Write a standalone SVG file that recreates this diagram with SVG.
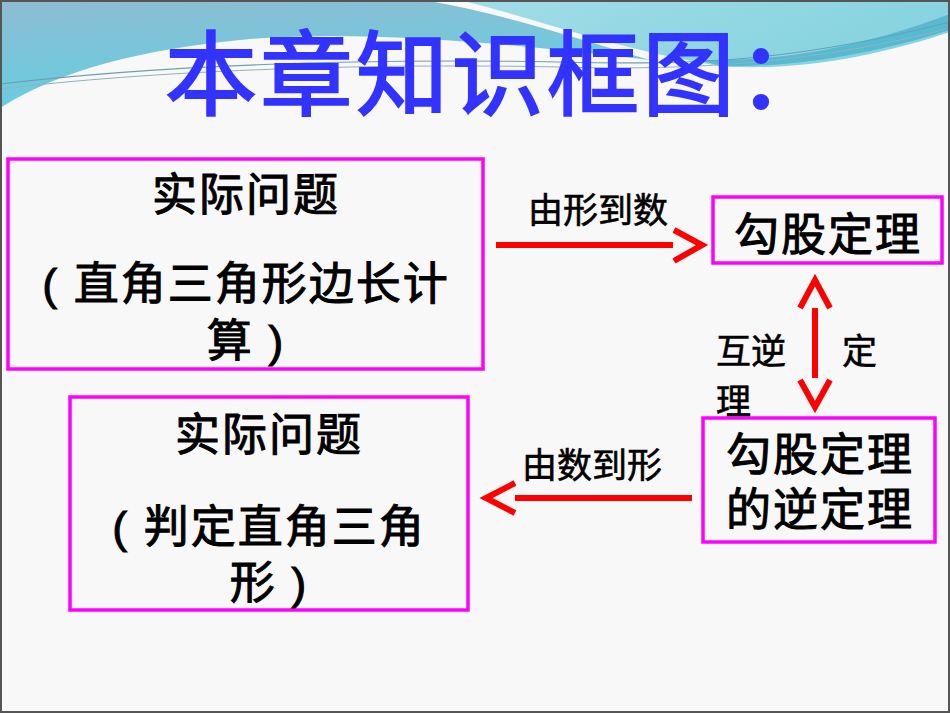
<svg xmlns="http://www.w3.org/2000/svg" width="950" height="713" viewBox="0 0 950 713">
<defs>
<linearGradient id="gl" x1="0" y1="0" x2="0.3" y2="1">
<stop offset="0" stop-color="#8fbcd3"/>
<stop offset="1" stop-color="#63cfe0"/>
</linearGradient>
<linearGradient id="gr" x1="0" y1="0" x2="1" y2="0.3">
<stop offset="0" stop-color="#a2dde6"/>
<stop offset="1" stop-color="#86d3df"/>
</linearGradient>
<style>
.box{fill:none;stroke:#ff00ff;stroke-width:3.5}
.bt{font-family:"Liberation Sans","Noto Sans CJK SC",sans-serif;font-size:45px;fill:#000;stroke:#000;stroke-width:1;text-anchor:middle;letter-spacing:2px}
.lb{font-family:"Liberation Sans","Noto Sans CJK SC",sans-serif;font-size:35px;fill:#000;stroke:#000;stroke-width:0.6}
.ar{fill:none;stroke:#ff0000;stroke-width:6}
</style>
</defs>
<rect x="0" y="0" width="950" height="713" fill="#f8f8f8"/>
<g id="waves">
<path d="M0,0 H424 C510,15 580,40 650,60 C520,45 360,28 240,40 C140,50 60,70 0,108 Z" fill="url(#gl)"/>
<path d="M460,0 C540,20 620,50 720,66 C800,72 880,55 950,32 V0 Z" fill="url(#gr)"/>
<path d="M700,60 C800,62 880,40 950,14 V30 C880,52 800,68 720,66 Z" fill="#55bad2"/>
<path d="M0,84 C150,66 350,58 560,62 C700,66 800,60 950,22" fill="none" stroke="#6f9fae" stroke-width="1.2"/>
<path d="M0,89 C150,71 350,63 560,67 C700,71 820,62 950,28" fill="none" stroke="#8fb3be" stroke-width="1"/>
</g>
<rect x="1" y="1" width="948" height="711" fill="none" stroke="#555" stroke-width="2"/>
<text id="title" x="165" y="108" font-family="'Noto Sans CJK SC',sans-serif" font-size="92" fill="#3333ff" stroke="#3333ff" stroke-width="2.2" letter-spacing="3.5">本章知识框图：</text>
<g id="box1">
<rect class="box" x="8" y="159" width="475" height="210"/>
<text class="bt" x="246" y="211">实际问题</text>
<text class="bt" x="246" y="300">( 直角三角形边长计</text>
<text class="bt" x="246" y="357">算 )</text>
</g>
<g id="box2">
<rect class="box" x="70" y="397" width="398" height="213"/>
<text class="bt" x="269" y="451">实际问题</text>
<text class="bt" x="269" y="543">( 判定直角三角</text>
<text class="bt" x="269" y="599">形 )</text>
</g>
<g id="box3">
<rect class="box" x="713" y="197" width="229" height="66"/>
<text class="bt" x="828" y="251">勾股定理</text>
</g>
<g id="box4">
<rect class="box" x="703" y="418" width="232" height="124"/>
<text class="bt" x="820" y="471">勾股定理</text>
<text class="bt" x="820" y="526">的逆定理</text>
</g>
<g id="connectors">
<line class="ar" x1="496" y1="245" x2="673" y2="245"/>
<polyline class="ar" points="674,230 702,245 674,261"/>
<line class="ar" x1="515" y1="498" x2="692" y2="498"/>
<polyline class="ar" points="515,483 486,498 515,513"/>
<line class="ar" x1="815" y1="308" x2="815" y2="378"/>
<polyline class="ar" points="800,308 815,280 830,308"/>
<polyline class="ar" points="800,380 815,407 830,380"/>
<text class="lb" x="528" y="223">由形到数</text>
<text class="lb" x="522" y="478">由数到形</text>
<text class="lb" x="716" y="364" font-size="40">互逆</text>
<text class="lb" x="842" y="364" font-size="40">定</text>
<text class="lb" x="716" y="414" font-size="40">理</text>
</g>
</svg>
